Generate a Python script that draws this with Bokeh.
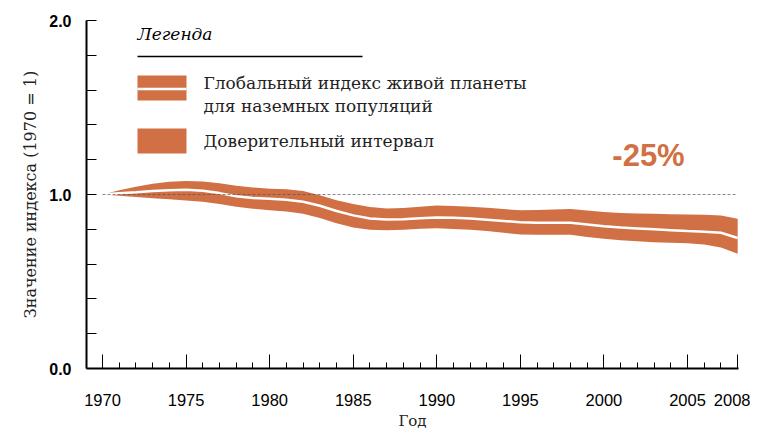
from bokeh.plotting import figure
from bokeh.models import Range1d, FixedTicker, Label, BoxAnnotation, NumeralTickFormatter
from bokeh.embed import file_html
from bokeh.resources import INLINE

# ---------------- data ----------------
years = list(range(1970, 2009))
index_vals = [1.000, 1.007, 1.013, 1.020, 1.025, 1.027, 1.022, 1.008, 0.990, 0.980,
              0.975, 0.970, 0.958, 0.935, 0.905, 0.880, 0.862, 0.856, 0.858, 0.864,
              0.868, 0.866, 0.862, 0.855, 0.848, 0.840, 0.838, 0.837, 0.837, 0.828,
              0.818, 0.810, 0.805, 0.800, 0.795, 0.790, 0.786, 0.780, 0.750]
upper_vals = [1.000, 1.025, 1.045, 1.062, 1.073, 1.078, 1.075, 1.065, 1.050, 1.040,
              1.033, 1.030, 1.020, 0.995, 0.967, 0.946, 0.928, 0.920, 0.922, 0.930,
              0.937, 0.934, 0.930, 0.924, 0.916, 0.909, 0.911, 0.914, 0.917, 0.908,
              0.900, 0.894, 0.891, 0.889, 0.887, 0.885, 0.884, 0.879, 0.860]
lower_vals = [1.000, 0.993, 0.985, 0.978, 0.972, 0.966, 0.958, 0.946, 0.930, 0.918,
              0.910, 0.903, 0.890, 0.865, 0.835, 0.810, 0.798, 0.795, 0.797, 0.803,
              0.806, 0.802, 0.797, 0.790, 0.780, 0.770, 0.768, 0.768, 0.768, 0.756,
              0.745, 0.737, 0.731, 0.726, 0.723, 0.720, 0.712, 0.695, 0.660]
base_value = 1.0
x_tick_years = [1970, 1975, 1980, 1985, 1990, 1995, 2000, 2005, 2008]
y_major_ticks = [0.0, 1.0, 2.0]
y_minor_ticks = [0.2, 0.4, 0.6, 0.8, 1.2, 1.4, 1.6, 1.8]
legend_title = "Легенда"
legend_label_index = "Глобальный индекс живой планеты"
legend_label_index2 = "для наземных популяций"
legend_label_ci = "Доверительный интервал"
change_label = "-25%"
x_title = "Год"
y_title = "Значение индекса (1970 = 1)"

ORANGE = "#D07044"
SERIF = "DejaVu Serif"
SANS = "Liberation Sans"

# ---------------- figure ----------------
X0, X1 = 1969.04, 2008.05
p = figure(x_range=Range1d(X0, X1), y_range=Range1d(0, 2.0),
           frame_width=652, frame_height=348,
           min_border_left=86, min_border_right=12, min_border_top=20, min_border_bottom=64,
           output_backend="svg", toolbar_location=None,
           background_fill_color="white", border_fill_color="white")
p.outline_line_color = None
p.xgrid.visible = False
p.ygrid.visible = False

# pixel (page image) -> data helpers for annotations
FL, FR, FT, FB = 86.0, 738.0, 20.0, 368.0
def X(px):
    return X0 + (px - FL) / (FR - FL) * (X1 - X0)
def Y(py):
    return (FB - py) / (FB - FT) * 2.0

# band + index line
p.varea(x=years, y1=lower_vals, y2=upper_vals, fill_color=ORANGE, fill_alpha=1.0)
p.line(x=years, y=index_vals, line_color="white", line_width=2.5)
p.line(x=[years[0], years[-1]], y=[base_value, base_value], line_color="#555555",
       line_alpha=0.7, line_width=1, line_dash="3 2")

# axes
xa = p.xaxis[0]
xa.ticker = FixedTicker(ticks=x_tick_years, minor_ticks=years)
xa.axis_line_width = 2
xa.axis_line_color = "black"
xa.major_tick_in = 14
xa.major_tick_out = 0
xa.minor_tick_in = 6
xa.minor_tick_out = 0
xa.major_tick_line_color = "black"
xa.minor_tick_line_color = "black"
xa.major_label_standoff = 25
xa.major_label_text_font = SANS
xa.major_label_text_font_size = "16.5px"
xa.major_label_text_color = "black"
xa.axis_label = x_title
xa.axis_label_text_font = SERIF
xa.axis_label_text_font_style = "normal"
xa.axis_label_text_font_size = "15px"
xa.axis_label_text_color = "#222222"
xa.axis_label_standoff = 3

ya = p.yaxis[0]
ya.ticker = FixedTicker(ticks=y_major_ticks, minor_ticks=y_minor_ticks)
ya.formatter = NumeralTickFormatter(format="0.0")
ya.axis_line_width = 2
ya.axis_line_color = "black"
ya.major_tick_in = 10
ya.major_tick_out = 0
ya.minor_tick_in = 10
ya.minor_tick_out = 0
ya.major_tick_line_color = "black"
ya.minor_tick_line_color = "black"
ya.major_tick_line_width = 1.2
ya.minor_tick_line_width = 1.2
ya.major_label_standoff = 15
ya.major_label_text_font = SANS
ya.major_label_text_font_style = "bold"
ya.major_label_text_font_size = "16px"
ya.major_label_text_color = "black"
ya.axis_label = y_title
ya.axis_label_text_font = SERIF
ya.axis_label_text_font_style = "normal"
ya.axis_label_text_font_size = "16px"
ya.axis_label_text_color = "#222222"
ya.axis_label_standoff = 6

# legend (manual)
p.add_layout(Label(x=X(137), y=Y(33), text=legend_title, text_font=SERIF,
                   text_font_style="italic", text_font_size="17px",
                   text_baseline="middle", text_align="left", text_color="black"))
p.add_layout(BoxAnnotation(left=X(137), right=X(362), top=Y(55.2), bottom=Y(56.8),
                           fill_color="black", fill_alpha=1, line_color=None))
p.add_layout(BoxAnnotation(left=X(137), right=X(186), top=Y(75), bottom=Y(100),
                           fill_color=ORANGE, fill_alpha=1, line_color=None))
p.add_layout(BoxAnnotation(left=X(137), right=X(186), top=Y(87.3), bottom=Y(89.8),
                           fill_color="white", fill_alpha=1, line_color=None))
p.add_layout(BoxAnnotation(left=X(137), right=X(186), top=Y(128), bottom=Y(153),
                           fill_color=ORANGE, fill_alpha=1, line_color=None))
for txt, py in [(legend_label_index, 82), (legend_label_index2, 105), (legend_label_ci, 140)]:
    p.add_layout(Label(x=X(203), y=Y(py), text=txt, text_font=SERIF,
                       text_font_size="17px", text_baseline="middle",
                       text_align="left", text_color="#222222"))

p.add_layout(Label(x=X(648), y=Y(155), text=change_label,
                   text_font=SANS, text_font_style="bold", text_font_size="31px",
                   text_color=ORANGE, text_align="center", text_baseline="middle"))

open("out.html", "w").write(file_html(p, INLINE))
